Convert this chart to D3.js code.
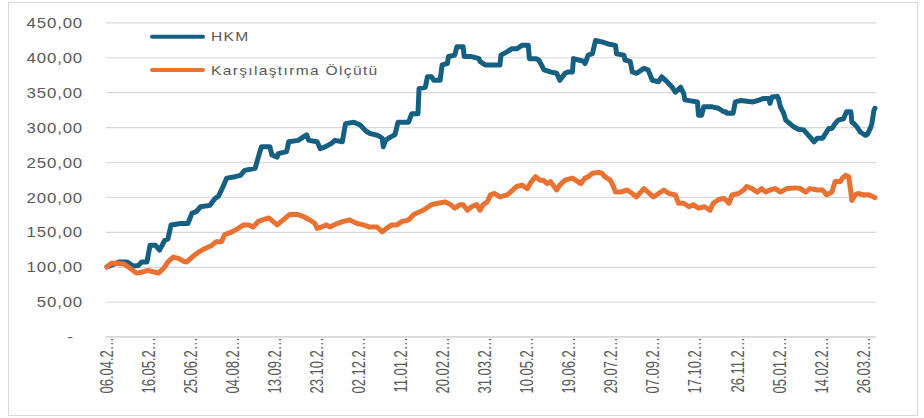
<!DOCTYPE html>
<html>
<head>
<meta charset="utf-8">
<script src="https://cdn.jsdelivr.net/npm/d3@7"></script>
<style>
  body { margin: 0; background: #fff; }
  svg { display: block; }
  text { font-family: "Liberation Sans", Arial, sans-serif; fill: #595959; }
</style>
</head>
<body>
<svg id="chart" width="924" height="418"></svg>
<script>
// Series names (legend order)
const seriesNames = ["HKM", "Karşılaştırma Ölçütü"];

// HKM – fund value index
const hkmDates = [
  "2023-04-06","2023-04-18","2023-04-25","2023-05-01","2023-05-06","2023-05-09","2023-05-14","2023-05-17","2023-05-22","2023-05-26",
  "2023-05-31","2023-06-03","2023-06-06","2023-06-15","2023-06-22","2023-06-26","2023-06-30","2023-07-04","2023-07-13","2023-07-18",
  "2023-07-21","2023-07-24","2023-07-29","2023-08-06","2023-08-11","2023-08-15","2023-08-25","2023-08-28","2023-08-31","2023-09-08",
  "2023-09-10","2023-09-15","2023-09-16","2023-09-24","2023-09-26","2023-10-05","2023-10-10","2023-10-13","2023-10-15","2023-10-23",
  "2023-10-26","2023-10-31","2023-11-06","2023-11-09","2023-11-16","2023-11-19","2023-11-27","2023-12-03","2023-12-08","2023-12-12",
  "2023-12-20","2023-12-24","2023-12-25","2023-12-27","2024-01-01","2024-01-05","2024-01-08","2024-01-18","2024-01-21","2024-01-27",
  "2024-01-28","2024-02-03","2024-02-05","2024-02-09","2024-02-11","2024-02-17","2024-02-19","2024-02-24","2024-02-25","2024-03-02",
  "2024-03-04","2024-03-10","2024-03-11","2024-03-18","2024-03-25","2024-03-26","2024-03-31","2024-04-14","2024-04-15","2024-04-21",
  "2024-04-25","2024-04-30","2024-05-05","2024-05-11","2024-05-12","2024-05-18","2024-05-21","2024-05-26","2024-06-01","2024-06-07",
  "2024-06-10","2024-06-15","2024-06-18","2024-06-22","2024-06-23","2024-06-28","2024-07-03","2024-07-04","2024-07-07","2024-07-11",
  "2024-07-14","2024-07-20","2024-07-26","2024-08-02","2024-08-03","2024-08-10","2024-08-11","2024-08-16","2024-08-18","2024-08-22",
  "2024-08-29","2024-09-02","2024-09-06","2024-09-12","2024-09-15","2024-09-20","2024-09-25","2024-09-28","2024-10-03","2024-10-06",
  "2024-10-07","2024-10-19","2024-10-20","2024-10-23","2024-10-25","2024-11-02","2024-11-08","2024-11-13","2024-11-15","2024-11-16",
  "2024-11-22","2024-11-24","2024-11-29","2024-12-11","2024-12-15","2024-12-21","2024-12-26","2024-12-27","2024-12-29","2025-01-03",
  "2025-01-04","2025-01-06","2025-01-09","2025-01-11","2025-01-15","2025-01-19","2025-01-23","2025-01-28","2025-01-31","2025-02-03",
  "2025-02-07","2025-02-10","2025-02-15","2025-02-18","2025-02-21","2025-02-24","2025-02-27","2025-03-02","2025-03-07","2025-03-10",
  "2025-03-14","2025-03-15","2025-03-17","2025-03-20","2025-03-23","2025-03-28","2025-03-30","2025-04-02","2025-04-03","2025-04-05",
  "2025-04-06"
];
const hkmValues = [
  100,107,107,101,102,107,107,131,131,124,
  138,140,160,162,162,177,179,186,188,198,
  201,210,227,229,231,238,241,257,272,272,
  260,257,262,265,279,281,286,289,281,279,
  269,272,277,281,279,305,307,303,295,291,
  288,284,272,281,286,289,307,307,319,319,
  355,357,372,372,367,367,389,391,401,403,
  415,415,401,401,398,394,389,389,403,408,
  412,412,417,417,398,398,396,382,379,377,
  367,377,379,379,398,396,394,391,403,405,
  424,422,419,417,405,403,396,394,379,377,
  384,382,367,365,372,365,357,350,357,348,
  339,336,317,317,329,329,327,322,322,320,
  320,336,338,336,338,341,341,334,343,344,
  341,329,320,310,305,300,297,296,291,286,
  279,284,284,291,298,298,305,310,312,322,
  322,307,305,300,293,288,290,300,305,324,
  327
];

// Karşılaştırma Ölçütü – benchmark index
const benchDates = [
  "2023-04-06","2023-04-10","2023-04-15","2023-04-22","2023-04-28","2023-05-04","2023-05-11","2023-05-15","2023-05-20","2023-05-25",
  "2023-05-30","2023-06-03","2023-06-08","2023-06-13","2023-06-18","2023-06-21","2023-06-26","2023-07-02","2023-07-08","2023-07-15",
  "2023-07-19","2023-07-24","2023-07-27","2023-08-03","2023-08-09","2023-08-14","2023-08-19","2023-08-23","2023-08-28","2023-09-07",
  "2023-09-15","2023-09-23","2023-09-27","2023-10-04","2023-10-10","2023-10-16","2023-10-21","2023-10-23","2023-10-27","2023-11-01",
  "2023-11-04","2023-11-11","2023-11-17","2023-11-23","2023-11-30","2023-12-06","2023-12-12","2023-12-19","2023-12-24","2023-12-28",
  "2024-01-02","2024-01-07","2024-01-12","2024-01-18","2024-01-23","2024-01-26","2024-02-01","2024-02-09","2024-02-15","2024-02-22",
  "2024-02-27","2024-03-02","2024-03-07","2024-03-10","2024-03-14","2024-03-18","2024-03-23","2024-03-26","2024-03-29","2024-04-02",
  "2024-04-05","2024-04-09","2024-04-14","2024-04-21","2024-04-24","2024-04-30","2024-05-05","2024-05-10","2024-05-14","2024-05-18",
  "2024-05-22","2024-05-25","2024-05-29","2024-06-01","2024-06-07","2024-06-10","2024-06-15","2024-06-22","2024-06-27","2024-06-30",
  "2024-07-04","2024-07-07","2024-07-11","2024-07-17","2024-07-20","2024-07-23","2024-07-28","2024-07-31","2024-08-02","2024-08-07",
  "2024-08-13","2024-08-18","2024-08-22","2024-08-29","2024-09-02","2024-09-07","2024-09-12","2024-09-17","2024-09-22","2024-09-28",
  "2024-10-01","2024-10-06","2024-10-11","2024-10-15","2024-10-20","2024-10-26","2024-10-31","2024-11-03","2024-11-08","2024-11-13",
  "2024-11-15","2024-11-18","2024-11-21","2024-11-27","2024-12-02","2024-12-05","2024-12-10","2024-12-15","2024-12-19","2024-12-23",
  "2024-12-27","2025-01-01","2025-01-06","2025-01-12","2025-01-20","2025-01-25","2025-01-30","2025-02-03","2025-02-10","2025-02-15",
  "2025-02-19","2025-02-24","2025-02-27","2025-03-04","2025-03-06","2025-03-09","2025-03-12","2025-03-14","2025-03-15","2025-03-18",
  "2025-03-21","2025-03-26","2025-03-31","2025-04-05","2025-04-06"
];
const benchValues = [
  100,105,105,104,98,91,93,95,93,91,
  98,107,114,112,108,107,114,121,126,131,
  136,136,146,150,155,160,160,157,165,170,
  160,170,175,175,172,167,162,155,157,160,
  157,162,165,167,162,160,157,157,150,155,
  160,160,165,167,175,177,181,189,191,193,
  189,184,189,189,181,186,189,181,189,193,
  203,205,200,203,207,215,217,212,222,229,
  224,224,219,222,210,217,224,227,222,219,
  227,229,234,235,234,229,224,215,207,207,
  210,205,200,212,207,200,205,210,205,203,
  191,191,186,189,184,186,181,191,196,198,
  196,191,203,205,210,215,212,207,212,207,
  210,212,207,212,213,212,207,212,210,210,
  203,207,222,222,227,231,229,207,195,203,
  205,203,203,200,199
];

// Axis ticks
const yTicks = [0, 50, 100, 150, 200, 250, 300, 350, 400, 450];
const xTickLabels = [
  "06.04.2023","16.05.2023","25.06.2023","04.08.2023","13.09.2023","23.10.2023","02.12.2023",
  "11.01.2024","20.02.2024","31.03.2024","10.05.2024","19.06.2024","29.07.2024","07.09.2024",
  "17.10.2024","26.11.2024","05.01.2025","14.02.2025","26.03.2025"
];

const colors = ["#156082", "#E97132"];
const textStretch = 1.2;

const svg = d3.select("#chart");
const parseISO = d3.utcParse("%Y-%m-%d");
const parseTR = d3.utcParse("%d.%m.%Y");
const fmt = d3.formatLocale({ decimal: ",", thousands: ".", grouping: [3], currency: ["", ""] }).format(",.2f");

const plot = { left: 106, right: 876, top: 22.3, bottom: 336.7 };

const x = d3.scaleUtc()
  .domain([parseISO("2023-04-06"), parseISO("2025-04-06")])
  .range([107, 875]);
const y = d3.scaleLinear().domain([0, 450]).range([plot.bottom, plot.top]);

// Chart frame
svg.append("rect")
  .attr("x", 8.5).attr("y", 2.5).attr("width", 909).attr("height", 413)
  .attr("fill", "#fff").attr("stroke", "#d9d9d9").attr("stroke-width", 1);

// Value axis with gridlines
const labelGap = 23;
const yAxis = svg.append("g")
  .attr("transform", `translate(${plot.left},0)`)
  .call(d3.axisLeft(y)
    .tickValues(yTicks)
    .tickSize(-(plot.right - plot.left))
    .tickPadding(labelGap)
    .tickFormat(d => d === 0 ? "-" : fmt(d)))
  .attr("font-family", null).attr("font-size", null);
yAxis.select(".domain").remove();
yAxis.selectAll(".tick line").attr("stroke", "#d9d9d9").attr("stroke-width", 1.2);
yAxis.selectAll(".tick text")
  .attr("fill", "#595959")
  .attr("font-size", 14)
  .style("letter-spacing", "0.7px")
  .attr("dy", "0.36em")
  .attr("x", d => (-labelGap + (d === 0 ? -9 : 0)) / textStretch)
  .attr("transform", `scale(${textStretch},1)`);

// Category axis line
svg.append("line")
  .attr("x1", plot.left).attr("x2", plot.right - 1)
  .attr("y1", plot.bottom).attr("y2", plot.bottom)
  .attr("stroke", "#d9d9d9").attr("stroke-width", 1.2);

// Date labels, rotated, truncated like the source
svg.append("g").selectAll("text")
  .data(xTickLabels)
  .join("text")
  .attr("transform", d => `translate(${x(parseTR(d))},${plot.bottom + 0.5}) scale(1.35,1) rotate(-90)`)
  .attr("text-anchor", "end")
  .attr("dy", "0.35em")
  .attr("font-size", 13)
  .text(d => d.slice(0, 7) + "…");

// Series lines
const series = [
  { name: seriesNames[0], dates: hkmDates, values: hkmValues, color: colors[0] },
  { name: seriesNames[1], dates: benchDates, values: benchValues, color: colors[1] }
];
const line = d3.line()
  .x(d => x(d.date))
  .y(d => y(d.value));

svg.append("g").selectAll("path")
  .data(series)
  .join("path")
  .attr("d", s => line(s.dates.map((dt, i) => ({ date: parseISO(dt), value: s.values[i] }))))
  .attr("fill", "none")
  .attr("stroke", s => s.color)
  .attr("stroke-width", 5)
  .attr("stroke-linejoin", "round")
  .attr("stroke-linecap", "round");

// Legend
const legend = svg.append("g").selectAll("g")
  .data(series)
  .join("g")
  .attr("transform", (s, i) => `translate(152,${36.7 + i * 33.3})`);
legend.append("line")
  .attr("x1", 0).attr("x2", 51)
  .attr("stroke", s => s.color)
  .attr("stroke-width", 4)
  .attr("stroke-linecap", "round");
legend.append("text")
  .attr("transform", `translate(59,0) scale(${textStretch},1)`)
  .attr("dy", "0.36em")
  .attr("font-size", 13)
  .style("letter-spacing", "1.1px")
  .text(s => s.name);
</script>
</body>
</html>
